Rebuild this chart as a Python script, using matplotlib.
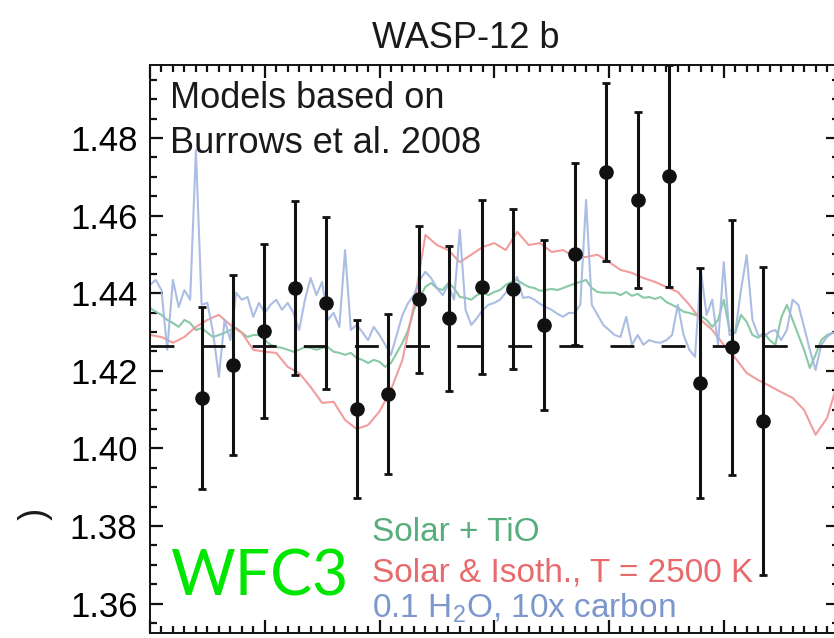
import numpy as np
import matplotlib
matplotlib.use("Agg")
import matplotlib.pyplot as plt
from matplotlib.patches import Rectangle
from matplotlib.ticker import MultipleLocator

plt.rcParams['font.family'] = ['Liberation Sans', 'DejaVu Sans']
plt.rcParams['mathtext.fontset'] = 'custom'
plt.rcParams['mathtext.rm'] = 'Liberation Sans'

# WFC3 transit depths (%) per spectral bin
wavelength = [1.145, 1.172, 1.199, 1.226, 1.253, 1.280, 1.307, 1.334, 1.361, 1.389,
              1.416, 1.443, 1.470, 1.497, 1.525, 1.552, 1.579, 1.607, 1.634]
depth = [1.4130, 1.4216, 1.4303, 1.4413, 1.4374, 1.4102, 1.4140, 1.4384, 1.4335, 1.4415,
         1.4410, 1.4318, 1.4501, 1.4713, 1.4640, 1.4702, 1.4169, 1.4260, 1.4070]
depth_err = [0.0234, 0.0232, 0.0224, 0.0224, 0.0222, 0.0230, 0.0206, 0.0190, 0.0186, 0.0224,
             0.0206, 0.0218, 0.0234, 0.0229, 0.0227, 0.0285, 0.0296, 0.0328, 0.0397]
flat_depth = 1.4265

# Burrows et al. 2008 model spectra
wl_fine = np.linspace(1.10, 1.70, 121)
wl_coarse = np.linspace(1.10, 1.70, 61)

solar_tio = [1.4362, 1.4352, 1.4344, 1.4331, 1.4323, 1.4313, 1.4331, 1.4323, 1.4305, 1.4310,
             1.4298, 1.4287, 1.4292, 1.4298, 1.4305, 1.4310, 1.4298, 1.4287, 1.4292, 1.4292,
             1.4279, 1.4267, 1.4261, 1.4259, 1.4254, 1.4249, 1.4254, 1.4261, 1.4259, 1.4254,
             1.4259, 1.4261, 1.4249, 1.4246, 1.4241, 1.4246, 1.4233, 1.4228, 1.4220, 1.4228,
             1.4223, 1.4210, 1.4220, 1.4246, 1.4272, 1.4305, 1.4357, 1.4390, 1.4416, 1.4426,
             1.4413, 1.4408, 1.4426, 1.4413, 1.4390, 1.4388, 1.4383, 1.4395, 1.4401, 1.4395,
             1.4403, 1.4408, 1.4421, 1.4429, 1.4434, 1.4424, 1.4416, 1.4413, 1.4406, 1.4408,
             1.4411, 1.4408, 1.4413, 1.4419, 1.4424, 1.4429, 1.4434, 1.4413, 1.4403, 1.4401,
             1.4401, 1.4401, 1.4395, 1.4403, 1.4393, 1.4398, 1.4388, 1.4390, 1.4385, 1.4390,
             1.4377, 1.4370, 1.4362, 1.4352, 1.4349, 1.4344, 1.4341, 1.4331, 1.4313, 1.4331,
             1.4383, 1.4305, 1.4298, 1.4344, 1.4326, 1.4292, 1.4285, 1.4298, 1.4279, 1.4267,
             1.4336, 1.4370, 1.4331, 1.4292, 1.4254, 1.4207, 1.4241, 1.4279, 1.4292, 1.4298,
             1.4292]

isothermal = [1.4292, 1.4287, 1.4272, 1.4287, 1.4313, 1.4331, 1.4344, 1.4318, 1.4298, 1.4254,
              1.4249, 1.4246, 1.4210, 1.4194, 1.4158, 1.4117, 1.4120, 1.4073, 1.4050, 1.4060,
              1.4095, 1.4151, 1.4228, 1.4370, 1.4550, 1.4524, 1.4511, 1.4480, 1.4499, 1.4519,
              1.4529, 1.4511, 1.4558, 1.4524, 1.4529, 1.4506, 1.4511, 1.4493, 1.4493, 1.4499,
              1.4480, 1.4460, 1.4452, 1.4439, 1.4429, 1.4416, 1.4403, 1.4370, 1.4331, 1.4305,
              1.4267, 1.4233, 1.4194, 1.4176, 1.4161, 1.4145, 1.4130, 1.4099, 1.4035, 1.4078,
              1.4176]

water_carbon = [1.4421, 1.4434, 1.4408, 1.4254, 1.4434, 1.4364, 1.4408, 1.4383, 1.4769, 1.4370,
                1.4375, 1.4298, 1.4184, 1.4331, 1.4279, 1.4401, 1.4383, 1.4390, 1.4339, 1.4375,
                1.4349, 1.4370, 1.4383, 1.4357, 1.4375, 1.4349, 1.4305, 1.4383, 1.4439, 1.4395,
                1.4429, 1.4331, 1.4349, 1.4313, 1.4511, 1.4305, 1.4318, 1.4300, 1.4279, 1.4313,
                1.4292, 1.4267, 1.4241, 1.4292, 1.4344, 1.4375, 1.4395, 1.4434, 1.4455, 1.4439,
                1.4413, 1.4395, 1.4421, 1.4383, 1.4563, 1.4357, 1.4318, 1.4336, 1.4357, 1.4370,
                1.4375, 1.4383, 1.4401, 1.4421, 1.4442, 1.4388, 1.4390, 1.4383, 1.4372, 1.4364,
                1.4357, 1.4347, 1.4339, 1.4349, 1.4349, 1.4370, 1.4640, 1.4370, 1.4344, 1.4318,
                1.4305, 1.4292, 1.4287, 1.4339, 1.4267, 1.4292, 1.4267, 1.4279, 1.4274, 1.4272,
                1.4279, 1.4292, 1.4370, 1.4292, 1.4254, 1.4236, 1.4460, 1.4344, 1.4383, 1.4267,
                1.4480, 1.4292, 1.4298, 1.4408, 1.4498, 1.4331, 1.4292, 1.4287, 1.4300, 1.4305,
                1.4279, 1.4305, 1.4383, 1.4370, 1.4313, 1.4254, 1.4202, 1.4267, 1.4287, 1.4298,
                1.4298]

GREEN = '#58ad7c'
RED = '#e86a6c'
BLUE = '#7b97cc'


def draw_spectrum(ax):
    ax.plot(wl_fine, solar_tio, color='#7cc49b', lw=1.5, alpha=0.9, zorder=2)
    ax.plot(wl_coarse, isothermal, color='#f19393', lw=1.5, alpha=0.9, zorder=2)
    ax.plot(wl_fine, water_carbon, color='#a3b6e0', lw=1.5, alpha=0.9, zorder=2)

    # flat (featureless) reference
    ax.plot([1.10, 1.70], [flat_depth, flat_depth], color='#111111', lw=2.0,
            dashes=(8.6, 9.8), zorder=3)

    ax.errorbar(wavelength, depth, yerr=depth_err, fmt='o', color='#111111',
                ms=9.5, elinewidth=2.2, capsize=3.2, capthick=2.0, zorder=4)


fig = plt.figure(figsize=(8.34, 6.38), dpi=100)
ax = fig.add_axes([150 / 834, 5 / 638, 688.5 / 834, 568 / 638])
draw_spectrum(ax)

ax.set_xlim(1.10, 1.70)
ax.set_ylim(1.3524, 1.4988)
ax.xaxis.set_major_locator(MultipleLocator(0.1))
ax.xaxis.set_minor_locator(MultipleLocator(0.01))
ax.yaxis.set_major_locator(MultipleLocator(0.02))
ax.yaxis.set_minor_locator(MultipleLocator(0.005))
ax.yaxis.set_major_formatter(matplotlib.ticker.FormatStrFormatter('%.2f'))
ax.tick_params(which='both', direction='in', top=True, right=True, width=1.6,
               labelsize=25, pad=9, labelbottom=False, color='#111111')
ax.tick_params(which='major', length=9.5)
ax.tick_params(which='minor', length=5)
for sp in ax.spines.values():
    sp.set_linewidth(1.4)
    sp.set_color('#111111')

fig.text(466 / 834, 1 - 48 / 638, 'WASP-12 b', fontsize=26, ha='center',
         va='baseline', color='#1a1a1a')
ax.text(170 / 834, 1 - 108 / 638, 'Models based on', transform=fig.transFigure,
        fontsize=26, va='baseline', color='#1a1a1a')
ax.text(170 / 834, 1 - 153 / 638, 'Burrows et al. 2008', transform=fig.transFigure,
        fontsize=26, va='baseline', color='#1a1a1a')

ax.text(372 / 834, 1 - 541 / 638, 'Solar + TiO', transform=fig.transFigure,
        fontsize=24, va='baseline', color=GREEN)
ax.text(372 / 834, 1 - 581 / 638, 'Solar & Isoth., T = 2500 K', transform=fig.transFigure,
        fontsize=24, va='baseline', color=RED)
ax.text(372 / 834, 1 - 617 / 638, r'0.1 H$_{\mathrm{2}}$O, 10x carbon',
        transform=fig.transFigure, fontsize=24, va='baseline', color=BLUE)

ax.text(170 / 834, 1 - 596 / 638, 'WFC3', transform=fig.transFigure,
        fontsize=45, va='baseline', color='#00e600', family=['Lato', 'DejaVu Sans'])

# y label end, partly hidden behind a white panel
fig.text(33 / 834, 1 - 505 / 638, '(%)', rotation=90, fontsize=26,
         ha='center', va='top', color='#1a1a1a')
fig.add_artist(Rectangle((0, 0), 64 / 834, 116 / 638, transform=fig.transFigure,
                         facecolor='white', edgecolor='none', zorder=10))

fig.savefig('out.png', dpi=100)
